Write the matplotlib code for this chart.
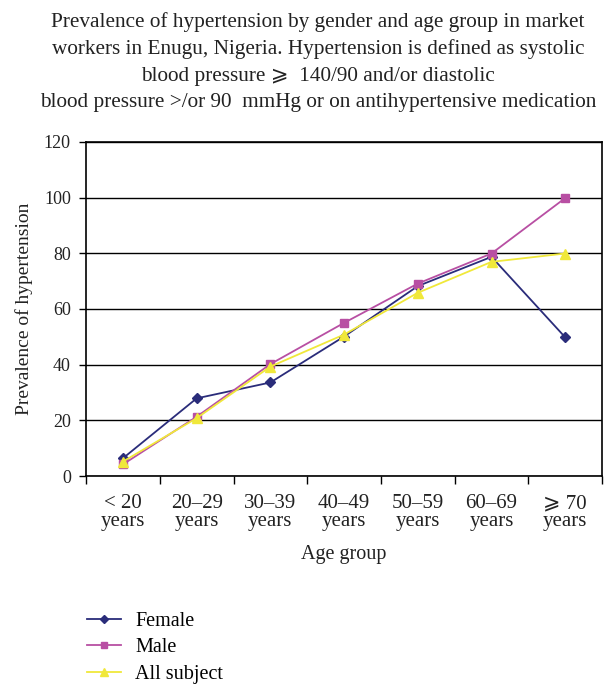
import matplotlib

matplotlib.use("Agg")
import matplotlib.pyplot as plt  # noqa: E402

plt.rcParams["font.family"] = ["Liberation Serif", "DejaVu Serif", "DejaVu Sans"]

age_groups = ["< 20\nyears", "20–29\nyears", "30–39\nyears", "40–49\nyears",
              "50–59\nyears", "60–69\nyears", "⩾ 70\nyears"]
female = [6.4, 27.9, 33.6, 50.1, 68.2, 78.7, 49.8]
male = [4.2, 21.3, 40.2, 55.0, 69.1, 79.9, 99.8]
all_subject = [5.2, 20.8, 39.3, 50.8, 65.8, 76.9, 79.9]

title = ("Prevalence of hypertension by gender and age group in market\n"
         "workers in Enugu, Nigeria. Hypertension is defined as systolic\n"
         "blood pressure ⩾  140/90 and/or diastolic\n"
         "blood pressure >/or 90  mmHg or on antihypertensive medication")

fig = plt.figure(figsize=(6.15, 6.85), dpi=100)
ax = fig.add_axes([0.140, 0.305, 0.839, 0.488])

x = list(range(len(age_groups)))
ax.plot(x, female, color="#2a2c7a", lw=1.3, marker="D", ms=5, label="Female")
ax.plot(x, male, color="#b84fa3", lw=1.3, marker="s", ms=6, label="Male")
ax.plot(x, all_subject, color="#f0e83a", lw=1.3, marker="^", ms=7, label="All subject")

ax.set_xlim(-0.5, len(age_groups) - 0.5)
ax.set_ylim(0, 120)
ax.set_yticks(range(0, 121, 20))
ax.yaxis.grid(True, color="black", lw=1)
ax.set_axisbelow(True)

# category boundaries get the tick marks, labels sit between them
ax.set_xticks([i - 0.5 for i in range(len(age_groups) + 1)], minor=False)
ax.set_xticklabels([])
ax.set_xticks(x, minor=True)
ax.set_xticklabels(age_groups, minor=True, fontsize=15, linespacing=0.9,
                   color="#222222")
ax.tick_params(axis="x", which="minor", length=0, pad=13)
ax.tick_params(axis="x", which="major", length=6, width=1, direction="out")
ax.tick_params(axis="y", length=5, width=1, labelsize=13, pad=6,
               labelcolor="#222222")

for s in ax.spines.values():
    s.set_linewidth(1.2)

ax.set_xlabel("Age group", fontsize=14.5, labelpad=10, color="#222222")
ax.set_ylabel("Prevalence of hypertension", fontsize=14, labelpad=8, color="#222222")

fig.text(0.517, 0.983, title, ha="center", va="top", fontsize=15.3,
         linespacing=1.53, color="#222222")

fig.legend(loc="upper left", bbox_to_anchor=(0.1415, 0.107), frameon=False,
           fontsize=14.5, handlelength=1.7, handletextpad=0.7, labelspacing=0.37,
           borderpad=0, borderaxespad=0, markerscale=0.8)

fig.savefig("out.png", dpi=100)
plt.close(fig)
